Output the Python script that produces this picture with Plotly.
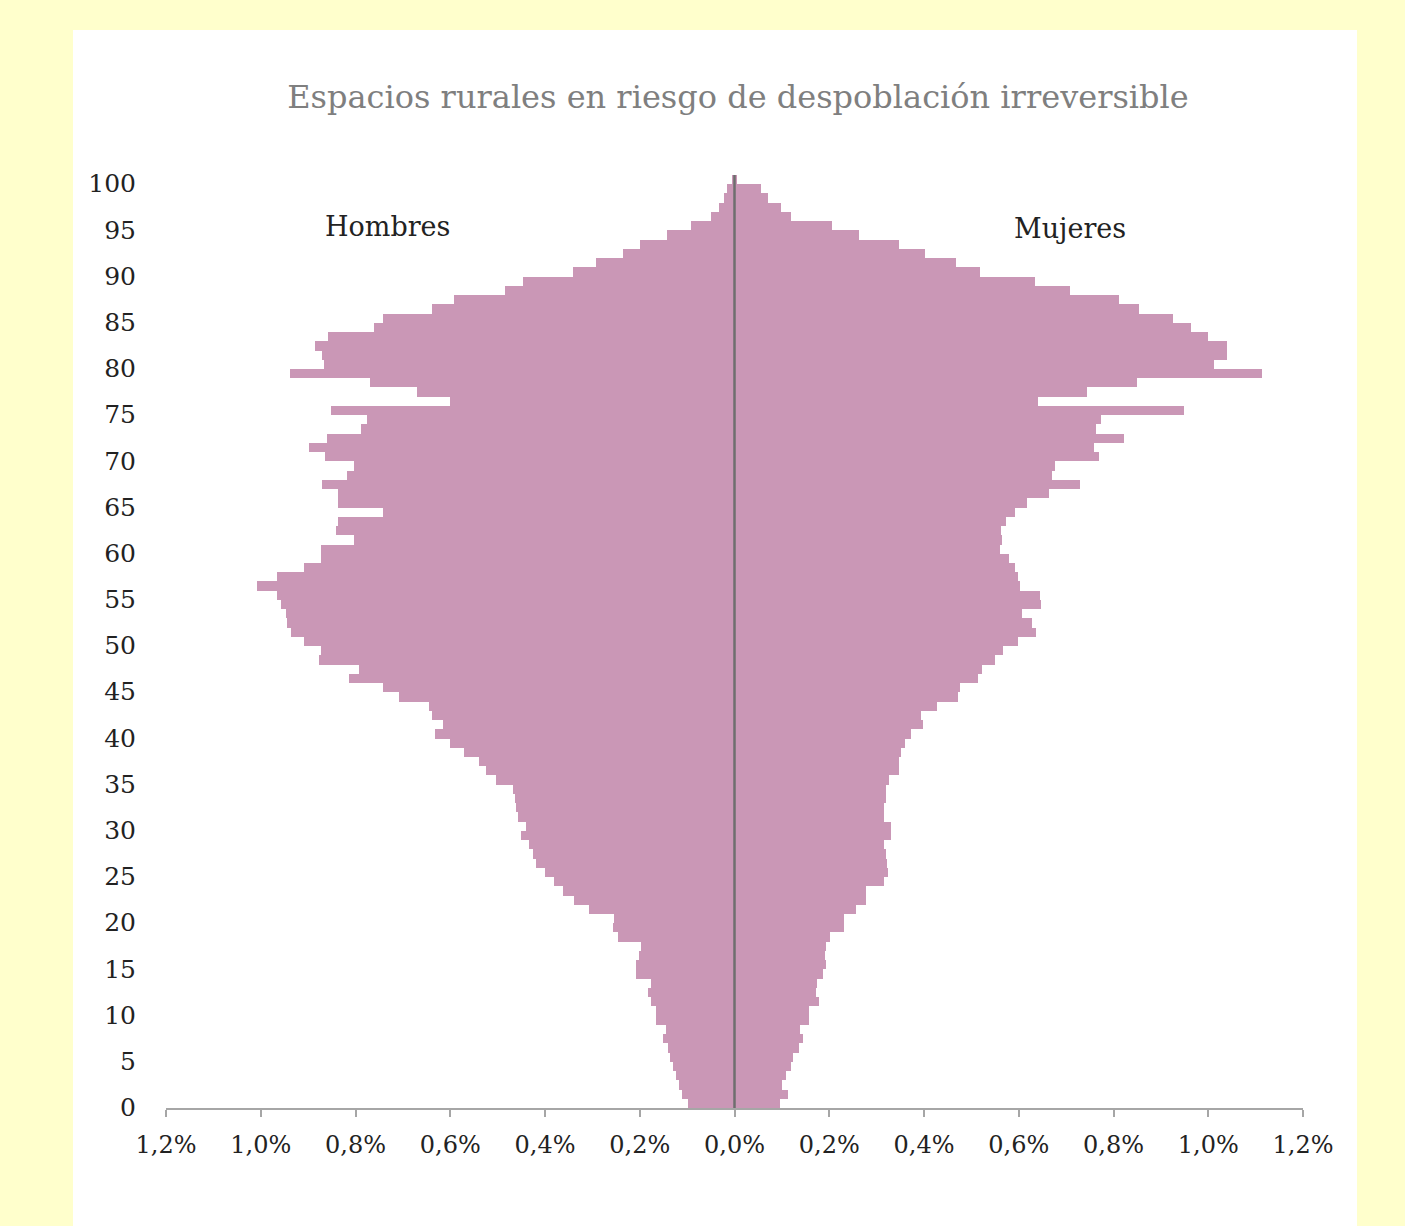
import plotly.graph_objects as go

ages = list(range(0, 101))

hombres = [
    0.099, 0.111, 0.118, 0.123, 0.130, 0.136, 0.141, 0.151, 0.144, 0.165,
    0.165, 0.176, 0.183, 0.176, 0.208, 0.208, 0.201, 0.197, 0.246, 0.257,
    0.254, 0.308, 0.338, 0.363, 0.380, 0.401, 0.419, 0.426, 0.433, 0.451,
    0.440, 0.458, 0.461, 0.463, 0.468, 0.504, 0.525, 0.539, 0.570, 0.601,
    0.632, 0.616, 0.639, 0.644, 0.708, 0.743, 0.813, 0.792, 0.877, 0.873,
    0.909, 0.937, 0.944, 0.947, 0.958, 0.965, 1.007, 0.965, 0.909, 0.873,
    0.873, 0.803, 0.842, 0.836, 0.742, 0.838, 0.836, 0.871, 0.819, 0.803,
    0.864, 0.899, 0.861, 0.789, 0.775, 0.852, 0.601, 0.671, 0.770, 0.938,
    0.866, 0.871, 0.885, 0.859, 0.761, 0.742, 0.639, 0.592, 0.485, 0.447,
    0.340, 0.292, 0.236, 0.199, 0.143, 0.092, 0.049, 0.032, 0.023, 0.015,
    0.005,
]

mujeres = [
    0.095, 0.113, 0.101, 0.109, 0.120, 0.123, 0.136, 0.144, 0.139, 0.157,
    0.157, 0.178, 0.171, 0.174, 0.187, 0.194, 0.190, 0.194, 0.201, 0.232,
    0.232, 0.256, 0.278, 0.278, 0.315, 0.324, 0.322, 0.320, 0.315, 0.331,
    0.331, 0.315, 0.315, 0.320, 0.320, 0.327, 0.347, 0.347, 0.352, 0.359,
    0.373, 0.398, 0.394, 0.427, 0.472, 0.475, 0.514, 0.523, 0.549, 0.567,
    0.599, 0.636, 0.627, 0.607, 0.648, 0.644, 0.602, 0.598, 0.593, 0.580,
    0.561, 0.565, 0.563, 0.574, 0.593, 0.617, 0.663, 0.730, 0.670, 0.676,
    0.770, 0.759, 0.822, 0.763, 0.774, 0.948, 0.641, 0.743, 0.850, 1.113,
    1.013, 1.040, 1.040, 1.000, 0.963, 0.926, 0.854, 0.812, 0.709, 0.635,
    0.518, 0.467, 0.402, 0.347, 0.263, 0.206, 0.119, 0.099, 0.071, 0.056,
    0.005,
]

x_ticks = [-1.2, -1.0, -0.8, -0.6, -0.4, -0.2, 0.0, 0.2, 0.4, 0.6, 0.8, 1.0, 1.2]
x_ticktext = ["1,2%", "1,0%", "0,8%", "0,6%", "0,4%", "0,2%", "0,0%",
              "0,2%", "0,4%", "0,6%", "0,8%", "1,0%", "1,2%"]
y_ticks = list(range(0, 101, 5))
y_ticktext = [str(v) for v in y_ticks]

title_text = "Espacios rurales en riesgo de despoblación irreversible"
label_h = "Hombres"
label_m = "Mujeres"

PINK = "#CA97B6"
FONT = "DejaVu Serif"
BG = "#FFFFCC"

fig = go.Figure()
fig.add_trace(go.Bar(
    y=ages, x=[-v for v in hombres], orientation="h",
    marker=dict(color=PINK, line=dict(width=0)), name=label_h,
    hoverinfo="skip",
))
fig.add_trace(go.Bar(
    y=ages, x=mujeres, orientation="h",
    marker=dict(color=PINK, line=dict(width=0)), name=label_m,
    hoverinfo="skip",
))

W, H = 1405, 1226
L, R, T, B = 166, 1405 - 1303, 175, 1226 - 1108
pw, ph = W - L - R, H - T - B

def px2paper_x(px):
    return (px - L) / pw

def px2paper_y(py):
    return (H - B - py) / ph

fig.update_layout(
    width=W, height=H,
    margin=dict(l=L, r=R, t=T, b=B, pad=0),
    paper_bgcolor=BG,
    plot_bgcolor="white",
    barmode="overlay",
    bargap=0,
    showlegend=False,
    font=dict(family=FONT, color="#222222"),
    title=dict(
        text=title_text, x=738 / W, xanchor="center",
        y=1 - 97 / H, yanchor="middle",
        font=dict(family=FONT, size=32, color="#7f7f7f"),
    ),
    xaxis=dict(
        range=[-1.2, 1.2], tickvals=x_ticks, ticktext=x_ticktext,
        showgrid=False, zeroline=False,
        showline=True, linecolor="#a6a6a6", linewidth=2,
        ticks="outside", ticklen=7, tickwidth=2, tickcolor="#a6a6a6",
        ticklabelstandoff=7,
        tickfont=dict(family=FONT, size=24, color="#222222"),
        fixedrange=True,
    ),
    yaxis=dict(
        range=[-0.5, 100.5], tickvals=y_ticks, ticktext=y_ticktext,
        showgrid=False, zeroline=False, showline=False,
        ticks="outside", ticklen=24, tickcolor="rgba(0,0,0,0)",
        ticklabelshift=4,
        tickfont=dict(family=FONT, size=25, color="#222222"),
        fixedrange=True,
    ),
    shapes=[
        dict(type="rect", xref="paper", yref="paper",
             x0=px2paper_x(73), x1=px2paper_x(1357),
             y0=px2paper_y(1230), y1=px2paper_y(30),
             fillcolor="white", line=dict(width=0), layer="below"),
        dict(type="line", xref="x", yref="paper", x0=0, x1=0, y0=0, y1=1,
             line=dict(color="#6e6e6e", width=2.5), layer="above"),
    ],
    annotations=[
        dict(text=label_h, xref="paper", yref="paper",
             x=px2paper_x(387), y=px2paper_y(227), showarrow=False,
             xanchor="center", yanchor="middle",
             font=dict(family=FONT, size=27, color="#222222")),
        dict(text=label_m, xref="paper", yref="paper",
             x=px2paper_x(1070), y=px2paper_y(228), showarrow=False,
             xanchor="center", yanchor="middle",
             font=dict(family=FONT, size=27, color="#222222")),
    ],
)

fig.write_html(
    "out.html",
    config={"displayModeBar": False},
    post_script="document.body.style.margin='0';document.body.style.background='" + BG + "';",
)
